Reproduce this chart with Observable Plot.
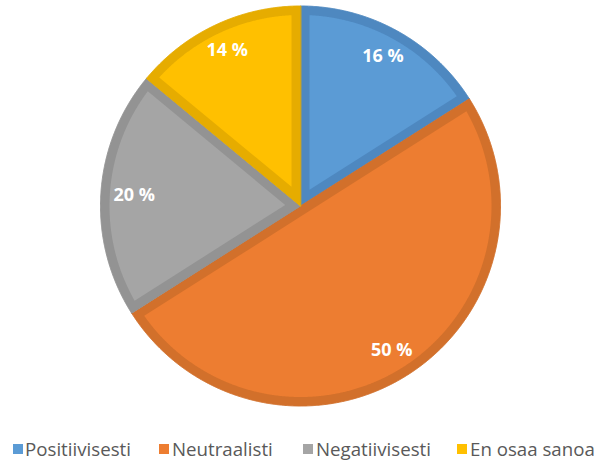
<!DOCTYPE html>
<html>
<head>
<meta charset="utf-8">
<script src="https://cdn.jsdelivr.net/npm/d3@7"></script>
<script src="https://cdn.jsdelivr.net/npm/@observablehq/plot@0.6"></script>
<style>
  html, body { margin: 0; padding: 0; background: #fff; }
  #wrap { position: relative; width: 596px; height: 461px; overflow: hidden; }
  #legend { position: absolute; left: 0; top: 420px; width: 596px; height: 41px;
    font-family: "Open Sans", sans-serif; font-size: 18.7px; color: #595959; }
  .sw { position: absolute; top: 24px; width: 10px; height: 10px; }
  .lt { position: absolute; top: 16px; line-height: 26px; white-space: nowrap; }
</style>
</head>
<body>
<div id="wrap"><div id="chart"></div><div id="legend"></div></div>
<script>
const categories = ["Positiivisesti", "Neutraalisti", "Negatiivisesti", "En osaa sanoa"];
const values = [16, 50, 20, 14];
const labels = ["16 %", "50 %", "20 %", "14 %"];
const fills = ["#5B9BD5", "#ED7D31", "#A5A5A5", "#FFC000"];
const borders = ["#4E88C0", "#D2702B", "#939393", "#E6AC00"];

const W = 596, H = 420;
const cx = 300, cy = 205.5, R = 200, inset = 9;

const arcs = d3.pie().sort(null).value(d => d)(values);
const step = Math.PI / 720;

function wedge(k, a0, a1, r, apexDist, mid) {
  const pts = [{k, x: apexDist * Math.sin(mid), y: -apexDist * Math.cos(mid)}];
  const n = Math.max(2, Math.ceil((a1 - a0) / step));
  for (let i = 0; i <= n; i++) {
    const a = a0 + (a1 - a0) * i / n;
    pts.push({k, x: r * Math.sin(a), y: -r * Math.cos(a)});
  }
  return pts;
}

const outer = [], inner = [], lab = [];
arcs.forEach((a, k) => {
  const mid = (a.startAngle + a.endAngle) / 2;
  const th = a.endAngle - a.startAngle;
  outer.push(...wedge(k, a.startAngle, a.endAngle, R, 0, mid));
  const ri = R - inset;
  const da = Math.asin(inset / ri);
  inner.push(...wedge(k, a.startAngle + da, a.endAngle - da, ri, inset / Math.sin(th / 2), mid));
  const rl = 187 - 20 * Math.abs(Math.sin(mid)) - 7 * Math.abs(Math.cos(mid));
  lab.push({k, text: labels[k], x: rl * Math.sin(mid), y: -rl * Math.cos(mid)});
});

const chart = Plot.plot({
  width: W, height: H, margin: 0,
  x: {domain: [-cx, W - cx], range: [0, W], axis: null},
  y: {domain: [-cy, H - cy], range: [0, H], axis: null},
  color: {type: "identity"},
  style: {background: "transparent", overflow: "visible"},
  marks: [
    Plot.line(outer, {x: "x", y: "y", z: "k", fill: d => borders[d.k], stroke: d => borders[d.k], strokeWidth: 1, curve: "linear-closed"}),
    Plot.line(inner, {x: "x", y: "y", z: "k", fill: d => fills[d.k], stroke: "none", curve: "linear-closed"}),
    Plot.text(lab, {x: "x", y: "y", text: "text", fill: "white", fontSize: 18, fontWeight: "bold", fontFamily: "Open Sans, sans-serif", textAnchor: "middle"})
  ]
});
document.getElementById("chart").appendChild(chart);

const swX = [13, 159, 303, 457];
const txX = [25, 172, 316, 470];
const leg = document.getElementById("legend");
categories.forEach((c, i) => {
  const s = document.createElement("div");
  s.className = "sw"; s.style.left = swX[i] + "px"; s.style.background = fills[i];
  leg.appendChild(s);
  const t = document.createElement("div");
  t.className = "lt"; t.style.left = txX[i] + "px"; t.textContent = c;
  leg.appendChild(t);
});
</script>
</body>
</html>
